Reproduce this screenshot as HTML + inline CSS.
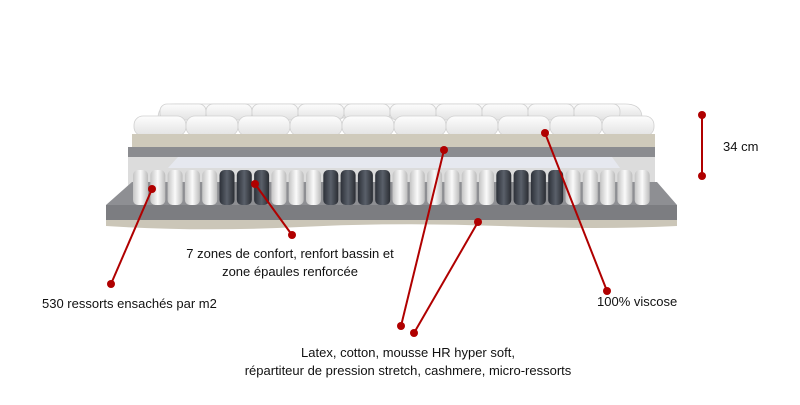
<!DOCTYPE html>
<html><head><meta charset="utf-8"><style>
body{margin:0;background:#fff;width:800px;height:400px;overflow:hidden;font-family:"Liberation Sans",sans-serif}
</style></head><body>
<svg width="800" height="400" viewBox="0 0 800 400" xmlns="http://www.w3.org/2000/svg">
<defs>
<linearGradient id="w" x1="0" x2="1"><stop offset="0" stop-color="#c4c4c4"/><stop offset=".5" stop-color="#fafafa"/><stop offset="1" stop-color="#bcbcbc"/></linearGradient>
<linearGradient id="d" x1="0" x2="1"><stop offset="0" stop-color="#2c3038"/><stop offset=".5" stop-color="#5a606a"/><stop offset="1" stop-color="#2a2d33"/></linearGradient>
<linearGradient id="q" x1="0" y1="0" x2="0" y2="1"><stop offset="0" stop-color="#fdfdfd"/><stop offset="1" stop-color="#e2e2e2"/></linearGradient>
</defs>
<rect x="128" y="150" width="527" height="60" fill="#dcdcdc"/>
<polygon points="132,182 657,182 677,205 677,220 106,220 106,205" fill="#8e8f93"/>
<rect x="106" y="205" width="571" height="15" fill="#7c7d81"/>
<path d="M106,220 L677,220 L677,226 Q600,230 500,226 T300,227 T106,226 Z" fill="#cbc6b8"/>
<g fill="url(#q)" stroke="#d0d0d0" stroke-width="0.8">
<path d="M158,118 Q158,104 175,104 L625,104 Q642,104 642,118 Z"/>
<rect x="160" y="104" width="46" height="16" rx="7"/><rect x="206" y="104" width="46" height="16" rx="7"/><rect x="252" y="104" width="46" height="16" rx="7"/><rect x="298" y="104" width="46" height="16" rx="7"/><rect x="344" y="104" width="46" height="16" rx="7"/><rect x="390" y="104" width="46" height="16" rx="7"/><rect x="436" y="104" width="46" height="16" rx="7"/><rect x="482" y="104" width="46" height="16" rx="7"/><rect x="528" y="104" width="46" height="16" rx="7"/><rect x="574" y="104" width="46" height="16" rx="7"/>
<rect x="134" y="116" width="52" height="20" rx="9"/><rect x="186" y="116" width="52" height="20" rx="9"/><rect x="238" y="116" width="52" height="20" rx="9"/><rect x="290" y="116" width="52" height="20" rx="9"/><rect x="342" y="116" width="52" height="20" rx="9"/><rect x="394" y="116" width="52" height="20" rx="9"/><rect x="446" y="116" width="52" height="20" rx="9"/><rect x="498" y="116" width="52" height="20" rx="9"/><rect x="550" y="116" width="52" height="20" rx="9"/><rect x="602" y="116" width="52" height="20" rx="9"/>
</g>
<path d="M132,134 L655,134 L655,148 L132,148 Z" fill="#cfcabb"/>
<rect x="128" y="147" width="527" height="10" fill="#8b8c90"/>
<polygon points="178,157 612,157 620,168 168,168" fill="#e6e8ef"/>
<g id="springs"></g>
<g stroke="#b00000" stroke-width="2">
<line x1="152" y1="189" x2="111" y2="284"/>
<line x1="255" y1="184" x2="292" y2="235"/>
<line x1="444" y1="150" x2="401" y2="326"/>
<line x1="478" y1="222" x2="414" y2="333"/>
<line x1="545" y1="133" x2="607" y2="291"/>
<line x1="702" y1="115" x2="702" y2="176"/>
</g>
<g fill="#b00000">
<circle cx="152" cy="189" r="4"/><circle cx="111" cy="284" r="4"/>
<circle cx="255" cy="184" r="4"/><circle cx="292" cy="235" r="4"/>
<circle cx="444" cy="150" r="4"/><circle cx="401" cy="326" r="4"/>
<circle cx="478" cy="222" r="4"/><circle cx="414" cy="333" r="4"/>
<circle cx="545" cy="133" r="4"/><circle cx="607" cy="291" r="4"/>
<circle cx="702" cy="115" r="4"/><circle cx="702" cy="176" r="4"/>
</g>
<g font-size="13" fill="#111">
<text x="723" y="151">34 cm</text>
<text x="290" y="258" text-anchor="middle">7 zones de confort, renfort bassin et</text>
<text x="290" y="276" text-anchor="middle">zone épaules renforcée</text>
<text x="42" y="308">530 ressorts ensachés par m2</text>
<text x="597" y="306">100% viscose</text>
<text x="408" y="357" text-anchor="middle">Latex, cotton, mousse HR hyper soft,</text>
<text x="408" y="375" text-anchor="middle">répartiteur de pression stretch, cashmere, micro-ressorts</text>
</g>
</svg>
<script>
var g=document.getElementById('springs'),ns='http://www.w3.org/2000/svg';
var dark=[[215,268],[318,392],[497,572]];
for(var x=132;x<650;x+=17.3){
 var c=x+8,isD=dark.some(function(r){return c>r[0]&&c<r[1]});
 var e=document.createElementNS(ns,'rect');
 e.setAttribute('x',x+1);e.setAttribute('y',170);e.setAttribute('width',15);e.setAttribute('height',35);
 e.setAttribute('rx',5);e.setAttribute('fill',isD?'url(#d)':'url(#w)');
 g.appendChild(e);
}
</script>
</body></html>
